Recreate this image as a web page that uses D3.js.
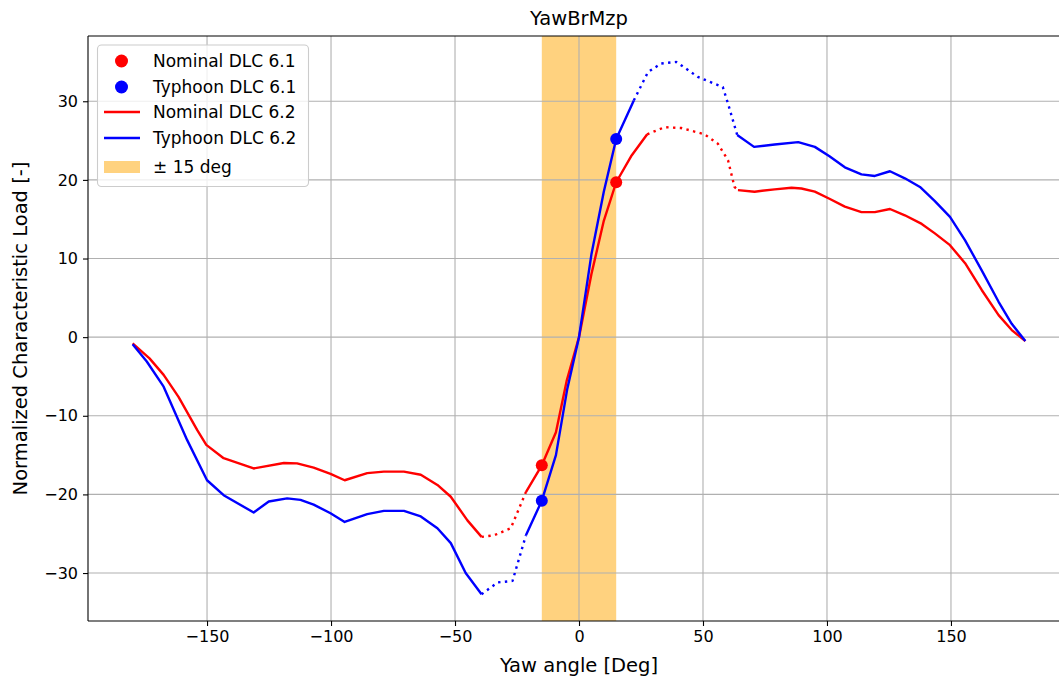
<!DOCTYPE html>
<meta charset="utf-8">
<script src="https://d3js.org/d3.v7.min.js"></script>
<style>
  body { margin: 0; background: #fff; }
  text { font-family: "DejaVu Sans", sans-serif; fill: #000; }
</style>
<div id="my_dataviz"></div>
<script>

// yaw-load curves, DLC 6.2 (nominal and typhoon)
var nominalYaw  = [-180, -173.2, -167.5, -161.5, -154, -150.3, -143.3, -131.2, -119, -113.7, -107, -100.2, -94.5, -85.4, -78.7, -70.6, -63.8, -57.1, -51.7, -45, -39.3,
                   -34.2, -27.5, -21.4, -15, -9.3, -5, 0, 5, 10, 15, 21, 27.5,
                   34.5, 41.2, 50.6, 56, 60.1, 62.7, 64.1, 70.8, 78.9, 85.7, 89.7, 95.1, 101, 107.2, 113.9, 119.3, 125.4, 131.4, 138.2, 143.5, 149.6, 155.7, 162.4, 169.2, 174.5, 180];
var nominalLoad = [-0.8, -2.7, -4.8, -7.6, -11.8, -13.7, -15.4, -16.7, -16.0, -16.05, -16.6, -17.4, -18.2, -17.3, -17.1, -17.1, -17.5, -18.8, -20.3, -23.3, -25.4,
                   -25.2, -24.3, -19.7, -16.3, -12.1, -5.6, 0, 8.0, 14.8, 19.7, 23.0, 25.8,
                   26.7, 26.6, 25.8, 24.6, 22.5, 19.1, 18.7, 18.5, 18.8, 19.0, 18.9, 18.5, 17.6, 16.6, 15.9, 15.9, 16.3, 15.5, 14.4, 13.2, 11.7, 9.4, 6.0, 2.8, 0.9, -0.5];

var typhoonYaw  = [-180, -174.3, -167.5, -158, -150, -143.3, -131.2, -125.1, -117.7, -112.3, -107, -100.2, -94.5, -85.4, -78.7, -70.6, -63.8, -57.1, -51.7, -45.7, -39.3,
                   -32.8, -26.8, -21.4, -15, -9.3, -4.8, 0, 5, 10, 15, 22.1,
                   27.8, 33.1, 39.2, 42.5, 47.9, 53.3, 58, 60.1, 63.8, 70.6, 78.9, 88.4, 95.1, 101, 107.2, 113.9, 119.3, 125.4, 131.4, 137.5, 143.5, 149.6, 155.7, 162.4, 169.2, 174.5, 180];
var typhoonLoad = [-0.9, -3.1, -6.3, -13.1, -18.2, -20.1, -22.3, -20.9, -20.5, -20.7, -21.3, -22.4, -23.5, -22.5, -22.1, -22.1, -22.8, -24.3, -26.2, -30.0, -32.7,
                   -31.2, -31.0, -25.2, -20.8, -15.0, -6.7, 0, 10.5, 18.5, 25.2, 30.1,
                   33.7, 34.8, 35.0, 34.3, 33.1, 32.4, 31.8, 29.7, 25.7, 24.2, 24.5, 24.8, 24.2, 23.0, 21.6, 20.7, 20.5, 21.1, 20.2, 19.1, 17.3, 15.3, 12.3, 8.5, 4.5, 1.7, -0.5];

// yaw ranges drawn dotted
var nominalGaps = [[-39.3, -21.4], [27.5, 64.1]];
var typhoonGaps = [[-39.3, -21.4], [22.1, 63.8]];

// DLC 6.1 points
var dlc61Yaw     = [-15, 15];
var nominal61    = [-16.3, 19.7];
var typhoon61    = [-20.8, 25.2];

var bandHalf = 15;
var xTicks = [-150, -100, -50, 0, 50, 100, 150];
var yTicks = [-30, -20, -10, 0, 10, 20, 30];

var W = 1059, H = 679;
var margin = {top: 36, left: 88, bottom: 621, right: 1070};

var svg = d3.select("#my_dataviz")
  .append("svg")
    .attr("width", W)
    .attr("height", H);

var x = d3.scaleLinear().domain([-198, 198]).range([margin.left, margin.right]);
var y = d3.scaleLinear().domain([-36.1, 38.3]).range([margin.bottom, margin.top]);

// ±15 deg band
svg.append("rect")
  .attr("x", x(-bandHalf)).attr("y", margin.top)
  .attr("width", x(bandHalf) - x(-bandHalf))
  .attr("height", margin.bottom - margin.top)
  .attr("fill", "orange").attr("fill-opacity", 0.5);

// grid
var grid = svg.append("g").attr("stroke", "#b0b0b0").attr("stroke-width", 1.1);
xTicks.forEach(function(t) {
  grid.append("line").attr("x1", x(t)).attr("x2", x(t)).attr("y1", margin.top).attr("y2", margin.bottom);
});
yTicks.forEach(function(t) {
  grid.append("line").attr("x1", margin.left).attr("x2", margin.right).attr("y1", y(t)).attr("y2", y(t));
});

// split a curve into solid and dotted pieces
function pieces(yaw, load, gaps) {
  var edges = [-Infinity];
  gaps.forEach(function(g) { edges.push(g[0], g[1]); });
  edges.push(Infinity);
  var out = [];
  for (var i = 0; i < edges.length - 1; i++) {
    var pts = [];
    yaw.forEach(function(v, j) {
      if (v >= edges[i] && v <= edges[i + 1]) pts.push([v, load[j]]);
    });
    out.push({dotted: i % 2 === 1, pts: pts});
  }
  return out;
}

var line = d3.line().x(function(d) { return x(d[0]); }).y(function(d) { return y(d[1]); });

function drawCurve(yaw, load, gaps, color) {
  svg.append("g").selectAll("path")
    .data(pieces(yaw, load, gaps))
    .enter().append("path")
      .attr("d", function(d) { return line(d.pts); })
      .attr("fill", "none")
      .attr("stroke", color)
      .attr("stroke-width", 2.4)
      .attr("stroke-linejoin", "round")
      .attr("stroke-dasharray", function(d) { return d.dotted ? "2.4,4.4" : null; });
}

drawCurve(nominalYaw, nominalLoad, nominalGaps, "red");
drawCurve(typhoonYaw, typhoonLoad, typhoonGaps, "blue");

function drawDots(vals, color) {
  svg.append("g").selectAll("circle")
    .data(vals)
    .enter().append("circle")
      .attr("cx", function(d, i) { return x(dlc61Yaw[i]); })
      .attr("cy", function(d) { return y(d); })
      .attr("r", 6)
      .attr("fill", color);
}
drawDots(nominal61, "red");
drawDots(typhoon61, "blue");

// spines
var spines = svg.append("g").attr("stroke", "#000").attr("stroke-width", 1.1).attr("fill", "none");
spines.append("line").attr("x1", margin.left).attr("x2", margin.right).attr("y1", margin.top).attr("y2", margin.top);
spines.append("line").attr("x1", margin.left).attr("x2", margin.right).attr("y1", margin.bottom).attr("y2", margin.bottom);
spines.append("line").attr("x1", margin.left).attr("x2", margin.left).attr("y1", margin.top).attr("y2", margin.bottom);

// axes
var fmt = function(d) { return d < 0 ? "\u2212" + Math.abs(d) : String(d); };
var xAxis = svg.append("g")
  .attr("transform", "translate(0," + margin.bottom + ")")
  .call(d3.axisBottom(x).tickValues(xTicks).tickFormat(fmt).tickSize(5).tickPadding(5));
var yAxis = svg.append("g")
  .attr("transform", "translate(" + margin.left + ",0)")
  .call(d3.axisLeft(y).tickValues(yTicks).tickFormat(fmt).tickSize(5).tickPadding(5));
[xAxis, yAxis].forEach(function(a) {
  a.select(".domain").remove();
  a.selectAll("line").attr("stroke", "#000").attr("stroke-width", 1.1);
  a.selectAll("text").style("font-family", "DejaVu Sans").style("font-size", "16px").attr("fill", "#000");
});

// titles
svg.append("text")
  .attr("x", (margin.left + margin.right) / 2).attr("y", 25)
  .attr("text-anchor", "middle").style("font-size", "19.5px")
  .text("YawBrMzp");
svg.append("text")
  .attr("x", (margin.left + margin.right) / 2).attr("y", 672)
  .attr("text-anchor", "middle").style("font-size", "19.5px")
  .text("Yaw angle [Deg]");
svg.append("text")
  .attr("transform", "translate(27," + (margin.top + margin.bottom) / 2 + ") rotate(-90)")
  .attr("text-anchor", "middle").style("font-size", "19.5px")
  .text("Normalized Characteristic Load [-]");

// legend
var legend = svg.append("g");
legend.append("rect")
  .attr("x", 97.5).attr("y", 45).attr("width", 211).attr("height", 141.5)
  .attr("rx", 4)
  .attr("fill", "#fff").attr("fill-opacity", 0.8)
  .attr("stroke", "#ccc").attr("stroke-width", 1.1);

var legendItems = [
  {label: "Nominal DLC 6.1", color: "red",    kind: "dot",   cy: 61},
  {label: "Typhoon DLC 6.1", color: "blue",   kind: "dot",   cy: 87},
  {label: "Nominal DLC 6.2", color: "red",    kind: "line",  cy: 112},
  {label: "Typhoon DLC 6.2", color: "blue",   kind: "line",  cy: 138},
  {label: "\u00b1 15 deg",   color: "orange", kind: "patch", cy: 167}
];
legendItems.forEach(function(d) {
  if (d.kind === "dot") {
    legend.append("circle").attr("cx", 121.5).attr("cy", d.cy).attr("r", 6.5).attr("fill", d.color);
  } else if (d.kind === "line") {
    legend.append("line").attr("x1", 104).attr("x2", 140).attr("y1", d.cy).attr("y2", d.cy)
      .attr("stroke", d.color).attr("stroke-width", 2.4);
  } else {
    legend.append("rect").attr("x", 104).attr("y", d.cy - 6).attr("width", 36).attr("height", 12)
      .attr("fill", d.color).attr("fill-opacity", 0.5);
  }
  legend.append("text")
    .attr("x", 153).attr("y", d.cy).attr("dy", "0.36em")
    .style("font-size", "17px")
    .text(d.label);
});

</script>
